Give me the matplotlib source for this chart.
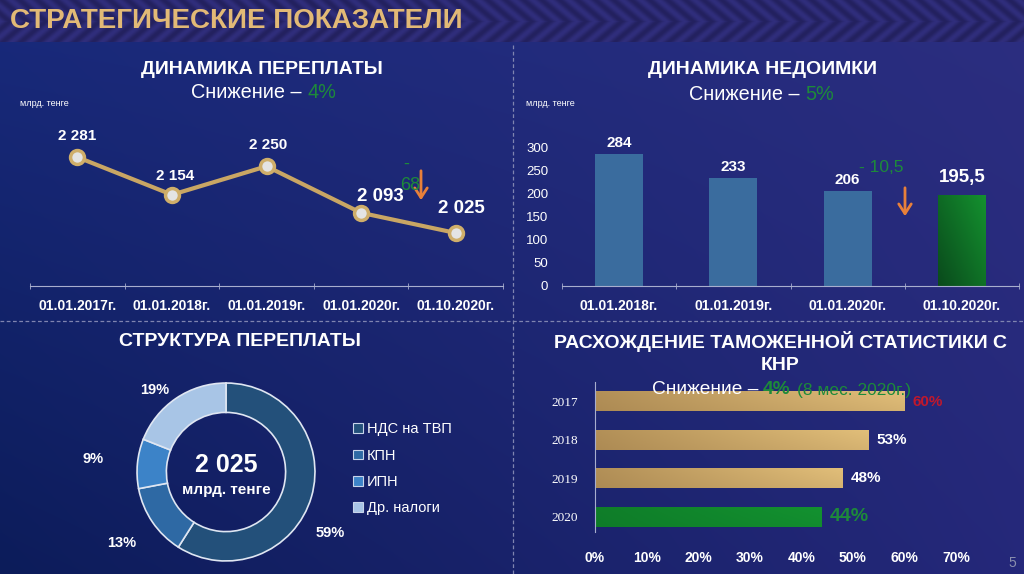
import numpy as np
import matplotlib
matplotlib.use('Agg')
import matplotlib.pyplot as plt
from matplotlib.colors import to_rgb

plt.rcParams['font.family'] = ['Liberation Sans', 'DejaVu Sans']

# данные
overpay_dates = ['01.01.2017г.', '01.01.2018г.', '01.01.2019г.', '01.01.2020г.', '01.10.2020г.']
overpay_values = [2281, 2154, 2250, 2093, 2025]

arrears_dates = ['01.01.2018г.', '01.01.2019г.', '01.01.2020г.', '01.10.2020г.']
arrears_values = [284, 233, 206, 195.5]

structure_labels = ['НДС на ТВП', 'КПН', 'ИПН', 'Др. налоги']
structure_shares = [59, 13, 9, 19]
structure_total = 2025

customs_years = ['2017', '2018', '2019', '2020']
customs_gap = [0.60, 0.53, 0.48, 0.44]

W, H = 1024, 574
fig = plt.figure(figsize=(W / 100, H / 100), dpi=100)

GREEN = '#1d8a3a'
ORANGE = '#e8803a'
GOLD = '#c9a664'
AXIS = '#a8aece'


def ax_px(x0, y0, x1, y1):
    return fig.add_axes([x0 / W, 1 - y1 / H, (x1 - x0) / W, (y1 - y0) / H])


# фон
bg = ax_px(0, 0, W, H)
bg.set_xlim(0, W)
bg.set_ylim(H, 0)
bg.axis('off')
xx = np.linspace(0, 1, W)[None, :, None]
yy = np.linspace(0, 1, H)[:, None, None]
tl, tr = np.array(to_rgb('#192a7c')), np.array(to_rgb('#2c2e80'))
bl, br = np.array(to_rgb('#0c1c5a')), np.array(to_rgb('#25287a'))
img = (tl * (1 - xx) * (1 - yy) + tr * xx * (1 - yy) + bl * (1 - xx) * yy + br * xx * yy)
# шапка с "ёлочкой"
bh = 42
X, Y = np.meshgrid(np.arange(W), np.arange(bh))
chev = np.cos(2 * np.pi * (X + np.abs(Y - bh / 2) * 1.2) / 18)[..., None]
c_hi, c_lo = np.array(to_rgb('#302e7c')), np.array(to_rgb('#23215f'))
band = c_lo + (c_hi - c_lo) * (chev + 1) / 2
img[:bh] = band
bg.imshow(img, extent=(0, W, H, 0), aspect='auto', zorder=0)

bg.plot([513, 513], [45, H], color='#7f84b0', lw=0.9, ls=(0, (3, 2)))
bg.plot([0, W], [321, 321], color='#7f84b0', lw=0.9, ls=(0, (3, 2)))


def T(x, y, s, **kw):
    return fig.text(x, y, s, transform=bg.transData, **kw)


T(10, 21, 'СТРАТЕГИЧЕСКИЕ ПОКАЗАТЕЛИ', fontsize=20, fontweight='bold', color='#e2b976',
  va='center', ha='left')
T(1012, 563, '5', fontsize=10, color='#8a8fae', ha='center', va='center')

# --- Динамика переплаты ---
T(262, 69, 'ДИНАМИКА ПЕРЕПЛАТЫ', fontsize=14, fontweight='bold', color='white', ha='center', va='center')
T(302, 92, 'Снижение –', fontsize=14.3, color='white', ha='right', va='center')
T(307, 92, '4%', fontsize=14.3, color=GREEN, ha='left', va='center')
T(20, 103, 'млрд. тенге', fontsize=6.5, color='white', ha='left', va='center')

ax1 = ax_px(30, 110, 503, 286)
ax1.set_facecolor('none')
x1 = np.arange(len(overpay_values))
ax1.plot(x1, overpay_values, color=GOLD, lw=3, marker='o', ms=10,
         markerfacecolor='#e4e4e4', markeredgecolor='#cfae6a', markeredgewidth=2.5, zorder=3)
ax1.set_xlim(-0.5, len(x1) - 0.5)
ax1.set_ylim(1846, 2440)
lab_off = [(0, 14), (3, 12), (2, 14), (19, 8), (6, 16)]
lab_size = [11, 11, 11, 13.5, 13.5]
for i, v in enumerate(overpay_values):
    ax1.annotate(f'{v:,}'.replace(',', ' '), (x1[i], v), xytext=lab_off[i], textcoords='offset pixels',
                 ha='center', va='bottom', fontsize=lab_size[i], fontweight='bold', color='white')
d1 = overpay_values[-1] - overpay_values[-2]
T(406, 164, '-', fontsize=13, color=GREEN, ha='center', va='center')
T(410, 186, f'{abs(d1)}', fontsize=13, color=GREEN, ha='center', va='center')
bg.annotate('', xy=(421, 203), xytext=(421, 168),
            arrowprops=dict(arrowstyle='->,head_length=0.7,head_width=0.45', color=ORANGE, lw=2))
ax1.set_xticks(x1)
ax1.set_xticklabels(overpay_dates, fontsize=10, fontweight='bold', color='white')
ax1.set_xticks(np.arange(-0.5, len(x1)), minor=True)
ax1.tick_params(axis='x', which='major', length=0, pad=9)
ax1.tick_params(axis='x', which='minor', length=4, color=AXIS, direction='inout')
ax1.set_yticks([])
for s in ['top', 'right', 'left']:
    ax1.spines[s].set_visible(False)
ax1.spines['bottom'].set_color(AXIS)

# --- Динамика недоимки ---
T(762, 70, 'ДИНАМИКА НЕДОИМКИ', fontsize=14, fontweight='bold', color='white', ha='center', va='center')
T(800, 94, 'Снижение –', fontsize=14.3, color='white', ha='right', va='center')
T(805, 94, '5%', fontsize=14.3, color=GREEN, ha='left', va='center')
T(526, 103, 'млрд. тенге', fontsize=6.5, color='white', ha='left', va='center')

ax2 = ax_px(562, 147, 1019, 286)
ax2.set_facecolor('none')
x2 = np.arange(len(arrears_values))
bars2 = ax2.bar(x2, arrears_values, width=0.42, color='#3a6c9e', zorder=2)
ax2.set_xlim(-0.5, len(x2) - 0.5)
ax2.set_ylim(0, 300)
# градиент последнего столбца
gb = bars2[-1]
gb.set_facecolor('none')
gx = np.linspace(0, 1, 40)[None, :]
gy = np.linspace(0, 1, 60)[:, None]
t = np.clip(0.55 * gx + 0.45 * (1 - gy), 0, 1)
c0, c1 = np.array(to_rgb('#0a4a1c')), np.array(to_rgb('#14912f'))
gimg = c0 * (1 - t[..., None]) + c1 * t[..., None]
im = ax2.imshow(gimg, extent=(gb.get_x(), gb.get_x() + gb.get_width(), 0, gb.get_height()),
                origin='upper', aspect='auto', zorder=2)
im.set_clip_path(gb)
ax2.set_xlim(-0.5, len(x2) - 0.5)
ax2.set_ylim(0, 300)
for i, v in enumerate(arrears_values):
    big = i == len(arrears_values) - 1
    ax2.annotate(f'{v:g}'.replace('.', ','), (x2[i], v), xytext=(0, 9 if big else 4),
                 textcoords='offset pixels', ha='center', va='bottom',
                 fontsize=13.5 if big else 11, fontweight='bold', color='white', annotation_clip=False)
d2 = arrears_values[-1] - arrears_values[-2]
T(881, 167, f'- {abs(d2):g}'.replace('.', ','), fontsize=12.5, color=GREEN, ha='center', va='center')
bg.annotate('', xy=(905, 219), xytext=(905, 185),
            arrowprops=dict(arrowstyle='->,head_length=0.7,head_width=0.45', color=ORANGE, lw=2))
ax2.set_xticks(x2)
ax2.set_xticklabels(arrears_dates, fontsize=10, fontweight='bold', color='white')
ax2.set_xticks(np.arange(-0.5, len(x2)), minor=True)
ax2.tick_params(axis='x', which='major', length=0, pad=9)
ax2.tick_params(axis='x', which='minor', length=4, color=AXIS, direction='inout')
ax2.set_yticks(np.arange(0, 301, 50))
ax2.tick_params(axis='y', length=0, pad=10, labelsize=9.5, labelcolor='white')
for s in ['top', 'right', 'left']:
    ax2.spines[s].set_visible(False)
ax2.spines['bottom'].set_color(AXIS)

# --- Структура переплаты ---
T(240, 342, 'СТРУКТУРА ПЕРЕПЛАТЫ', fontsize=14, fontweight='bold', color='white', ha='center', va='center')
ax3 = ax_px(126, 372, 326, 572)
ax3.set_facecolor('none')
pie_colors = ['#23507a', '#2e69a4', '#3c83c8', '#a8c5e6']
wedges, _ = ax3.pie(structure_shares, colors=pie_colors, startangle=90, counterclock=False, radius=1,
                    wedgeprops=dict(width=0.33, edgecolor='#dfe6f2', linewidth=1.2))
ax3.set_xlim(-1.124, 1.124)
ax3.set_ylim(-1.124, 1.124)
ax3.set_aspect('auto')
dist = [1.36, 1.42, 1.5, 1.22]
shift = [-14, 0, 0, 7]
for w, p, r, sh in zip(wedges, structure_shares, dist, shift):
    a = np.deg2rad((w.theta1 + w.theta2) / 2 + sh)
    ax3.text(r * np.cos(a), r * np.sin(a), f'{p}%', ha='center', va='center',
             fontsize=10.5, fontweight='bold', color='white', clip_on=False)
ax3.text(0, 0.08, f'{structure_total:,}'.replace(',', ' '), ha='center', va='center',
         fontsize=18, fontweight='bold', color='white')
ax3.text(0, -0.2, 'млрд. тенге', ha='center', va='center', fontsize=11, fontweight='bold', color='white')
leg = ax3.legend(wedges, structure_labels, loc='upper left', bbox_to_anchor=(340 / W, 1 - 409 / H),
                 bbox_transform=fig.transFigure, frameon=False, fontsize=10.5, labelcolor='white',
                 handlelength=0.65, handleheight=0.65, handletextpad=0.3, labelspacing=0.85)
for h in leg.legend_handles:
    h.set_edgecolor('#c8d4ea')
    h.set_linewidth(0.8)

# --- Расхождение таможенной статистики ---
T(780, 341, 'РАСХОЖДЕНИЕ ТАМОЖЕННОЙ СТАТИСТИКИ С', fontsize=14, fontweight='bold', color='white',
  ha='center', va='center')
T(780, 365, 'КНР', fontsize=14, fontweight='bold', color='white', ha='center', va='center')

ax4 = ax_px(595, 382, 956, 536)
ax4.set_facecolor('none')
y4 = np.arange(len(customs_gap))
bars4 = ax4.barh(y4, customs_gap, height=0.52, color='none', zorder=2)
ax4.set_xlim(0, 0.7)
ax4.set_ylim(len(y4) - 0.5, -0.5)
gx = np.linspace(0, 1, 80)[None, :]
gy = np.linspace(0, 1, 20)[:, None]
for i, b in enumerate(bars4):
    if i == len(bars4) - 1:
        a0, a1 = np.array(to_rgb('#0c6e24')), np.array(to_rgb('#139230'))
    else:
        a0, a1 = np.array(to_rgb('#8c6a3c')), np.array(to_rgb('#e2bf7a'))
    tt = np.clip(0.45 + 0.55 * gx, 0, 1) * (1 - 0.15 * gy)
    bimg = a0 * (1 - tt[..., None]) + a1 * tt[..., None]
    bi = ax4.imshow(bimg, extent=(0, b.get_width(), b.get_y() + b.get_height(), b.get_y()),
                    origin='upper', aspect='auto', zorder=2)
    bi.set_clip_path(b)
ax4.set_xlim(0, 0.7)
ax4.set_ylim(len(y4) - 0.5, -0.5)
val_col = ['#c0182c', 'white', 'white', GREEN]
val_size = [11, 11, 11, 14]
for i, v in enumerate(customs_gap):
    ax4.annotate(f'{v:.0%}', (v, y4[i]), xytext=(8, -1 if i == 0 else 0), textcoords='offset pixels',
                 ha='left', va='center', fontsize=val_size[i], fontweight='bold', color=val_col[i],
                 family=['Liberation Sans Narrow', 'Liberation Sans'])
ax4.set_yticks(y4)
ax4.set_yticklabels(customs_years, family=['Liberation Serif', 'DejaVu Serif'], fontsize=9.5, color='white')
ax4.set_xticks(np.arange(0, 0.71, 0.1))
ax4.set_xticklabels([f'{t:.0%}' for t in np.arange(0, 0.71, 0.1)], fontsize=10, fontweight='bold',
                    color='white', family=['Liberation Sans Narrow', 'Liberation Sans'])
ax4.tick_params(axis='x', length=0, pad=11)
ax4.tick_params(axis='y', length=0, pad=12)
for s in ['top', 'right', 'bottom']:
    ax4.spines[s].set_visible(False)
ax4.spines['left'].set_color(AXIS)
ax4.spines['left'].set_bounds(len(y4) - 0.6, -0.5)

T(758, 390, 'Снижение –', fontsize=13.8, color='white', ha='right', va='center')
T(763, 390, '4%', fontsize=13.8, color=GREEN, ha='left', va='center', fontweight='bold')
T(797, 391, '(8 мес. 2020г.)', fontsize=12.5, color=GREEN, ha='left', va='center')

fig.savefig('out.png', dpi=100)
